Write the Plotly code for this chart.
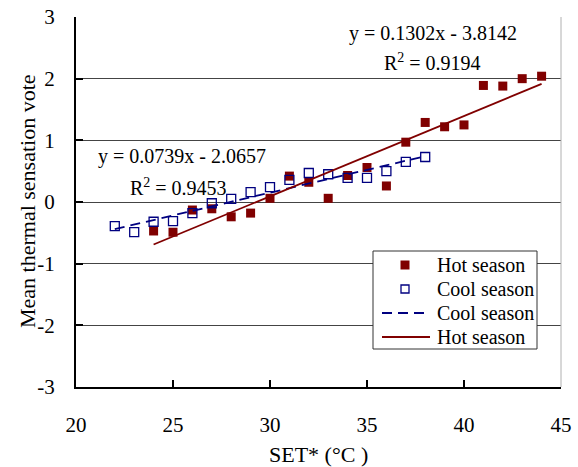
import plotly.graph_objects as go

# ---- data ----
hot_x = [24, 25, 26, 27, 28, 29, 30, 31, 32, 33, 34, 35, 36, 37, 38, 39, 40, 41, 42, 43, 44]
hot_y = [-0.47, -0.49, -0.13, -0.11, -0.24, -0.18, 0.06, 0.42, 0.32, 0.06, 0.43, 0.56,
         0.26, 0.97, 1.29, 1.22, 1.25, 1.89, 1.88, 2.00, 2.04]
cool_x = [22, 23, 24, 25, 26, 27, 28, 29, 30, 31, 32, 33, 34, 35, 36, 37, 38]
cool_y = [-0.39, -0.49, -0.32, -0.31, -0.18, -0.02, 0.05, 0.16, 0.24, 0.36, 0.47, 0.45,
          0.39, 0.39, 0.50, 0.65, 0.73]
hot_slope, hot_icpt, hot_r2 = 0.1302, -3.8142, 0.9194
cool_slope, cool_icpt, cool_r2 = 0.0739, -2.0657, 0.9453
x_ticks = [20, 25, 30, 35, 40, 45]
x_ticktext = ["20", "25", "30", "35", "40", "45"]
y_ticks = [-3, -2, -1, 0, 1, 2, 3]
y_ticktext = ["-3", "-2", "-1", "0", "1", "2", "3"]
legend_labels = ["Hot season", "Cool season", "Cool season", "Hot season"]

HOT = "#800000"
COOL = "#000080"
FONT = "Liberation Serif, Times New Roman, serif"

W, H = 578, 467
PL, PR, PT, PB = 76, 561, 17, 387  # plot area in page pixels


def px(x):
    return (x - PL) / (PR - PL)


def py(y):
    return (PB - y) / (PB - PT)


hot_line_x = [min(hot_x), max(hot_x)]
hot_line_y = [hot_slope * v + hot_icpt for v in hot_line_x]
cool_line_x = [min(cool_x), max(cool_x)]
cool_line_y = [cool_slope * v + cool_icpt for v in cool_line_x]

fig = go.Figure()
fig.add_trace(go.Scatter(x=hot_x, y=hot_y, mode="markers", name=legend_labels[0],
                         marker=dict(symbol="square", size=9, color=HOT)))
fig.add_trace(go.Scatter(x=cool_x, y=cool_y, mode="markers", name=legend_labels[1],
                         marker=dict(symbol="square-open", size=9, color=COOL,
                                     line=dict(width=1.3, color=COOL))))
fig.add_trace(go.Scatter(x=cool_line_x, y=cool_line_y, mode="lines", name=legend_labels[2],
                         line=dict(color=COOL, width=1.8, dash="10px,6px")))
fig.add_trace(go.Scatter(x=hot_line_x, y=hot_line_y, mode="lines", name=legend_labels[3],
                         line=dict(color=HOT, width=1.8)))

tf = dict(family=FONT, size=20, color="black")
fig.add_annotation(x=38.4, y=2.74, text=f"y = {hot_slope}x - {abs(hot_icpt)}", showarrow=False,
                   font=tf, bgcolor="white")
fig.add_annotation(x=38.4, y=2.27, text=f"R<sup>2</sup> = {hot_r2}", showarrow=False,
                   font=tf, bgcolor="white")
fig.add_annotation(x=25.46, y=0.73, text=f"y = {cool_slope}x - {abs(cool_icpt)}", showarrow=False,
                   font=tf)
fig.add_annotation(x=25.3, y=0.24, text=f"R<sup>2</sup> = {cool_r2}", showarrow=False,
                   font=tf)

# axis titles
fig.add_annotation(xref="paper", yref="paper", x=px(27), y=py(201), xanchor="center", yanchor="middle",
                   text="Mean thermal sensation vote", textangle=-90, showarrow=False,
                   font=dict(family=FONT, size=22, color="black"))
fig.add_annotation(xref="paper", yref="paper", x=px(318), y=py(455), xanchor="center", yanchor="middle",
                   text="SET* (°C )", showarrow=False,
                   font=dict(family=FONT, size=22, color="black"))

# right frame line
fig.add_shape(type="line", xref="paper", yref="paper", x0=1, x1=1, y0=0, y1=1,
              line=dict(color="#b0b0b0", width=1))

# ---- legend (drawn box) ----
fig.add_shape(type="rect", xref="paper", yref="paper", x0=px(373), x1=px(537), y0=py(251), y1=py(349),
              line=dict(color="#333", width=1), fillcolor="white", layer="above")
rows = [265, 289, 313, 337]
mx = 405
fig.add_shape(type="rect", xref="paper", yref="paper", x0=px(mx - 4.5), x1=px(mx + 4.5),
              y0=py(rows[0] - 4.5), y1=py(rows[0] + 4.5), line=dict(width=0), fillcolor=HOT,
              layer="above")
fig.add_shape(type="rect", xref="paper", yref="paper", x0=px(mx - 4), x1=px(mx + 4),
              y0=py(rows[1] - 4), y1=py(rows[1] + 4), line=dict(width=1.3, color=COOL),
              fillcolor="white", layer="above")
fig.add_shape(type="line", xref="paper", yref="paper", x0=px(382), x1=px(430),
              y0=py(rows[2]), y1=py(rows[2]), line=dict(color=COOL, width=1.8, dash="10px,6px"),
              layer="above")
fig.add_shape(type="line", xref="paper", yref="paper", x0=px(382), x1=px(430),
              y0=py(rows[3]), y1=py(rows[3]), line=dict(color=HOT, width=1.8), layer="above")
for r, lab in zip(rows, legend_labels):
    fig.add_annotation(xref="paper", yref="paper", x=px(435), y=py(r), xanchor="left",
                       yanchor="middle", text=lab, showarrow=False, font=tf)

fig.update_layout(
    width=W, height=H,
    margin=dict(l=PL, r=W - PR, t=PT, b=H - PB, autoexpand=False),
    paper_bgcolor="white", plot_bgcolor="white",
    font=dict(family=FONT, size=20, color="black"),
    showlegend=False,
    xaxis=dict(range=[20, 45], tickvals=x_ticks, ticktext=x_ticktext, ticks="inside", ticklen=7,
               tickwidth=2, tickcolor="black", showline=True, linecolor="black", linewidth=2,
               showgrid=False, zeroline=False, ticklabelstandoff=18, automargin=False,
               ticklabeloverflow="allow", tickfont=dict(family=FONT, size=21)),
    yaxis=dict(range=[-3, 3], tickvals=y_ticks, ticktext=y_ticktext, ticks="inside", ticklen=7,
               tickwidth=2, tickcolor="black", showline=True, linecolor="black", linewidth=2,
               showgrid=True, gridcolor="#444", gridwidth=1, zeroline=False, automargin=False,
               ticklabeloverflow="allow", ticklabelstandoff=15,
               tickfont=dict(family=FONT, size=21)),
)

fig.write_html("out.html", config={"displayModeBar": False},
               post_script="document.body.style.margin='0';document.body.style.overflow='hidden';")
